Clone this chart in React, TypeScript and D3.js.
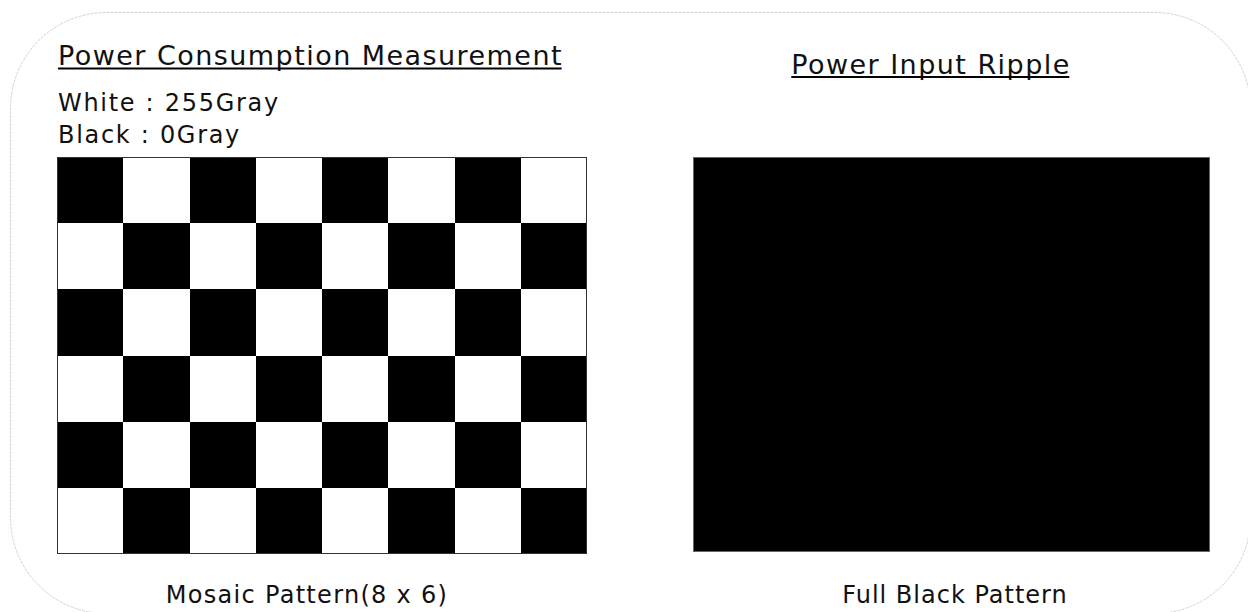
import React, { useEffect, useRef } from 'react';
import * as d3 from 'd3';

// Data
const mosaicColumns = [1, 2, 3, 4, 5, 6, 7, 8];
const mosaicRows = [1, 2, 3, 4, 5, 6];
const whiteGray = 255;
const blackGray = 0;
const fullPatternGray = [blackGray];

const leftTitle = 'Power Consumption Measurement';
const rightTitle = 'Power Input Ripple';
const legendLines = [`White : ${whiteGray}Gray`, `Black : ${blackGray}Gray`];
const leftCaption = `Mosaic Pattern(${mosaicColumns.length} x ${mosaicRows.length})`;
const rightCaption = 'Full Black Pattern';

const App = () => {
    const chartRef = useRef<HTMLDivElement>(null);

    useEffect(() => {
        document.body.style.margin = '0';
        document.body.style.overflow = 'hidden';
        drawPatterns(chartRef.current);
    }, []);

    const drawPatterns = (element: HTMLDivElement | null) => {
        if (!element) return;
        d3.select(element).selectAll('*').remove();

        const width = 1248;
        const height = 612;
        const font = '"DejaVu Sans", Verdana, sans-serif';

        const svg = d3.select(element)
            .append('svg')
            .attr('width', width)
            .attr('height', height)
            .style('display', 'block')
            .style('background', '#fff');

        // outer rounded frame
        svg.append('rect')
            .attr('x', 10.5)
            .attr('y', 12.5)
            .attr('width', 1240)
            .attr('height', 601)
            .attr('rx', 96)
            .attr('ry', 96)
            .attr('fill', 'none')
            .attr('stroke', '#d4d4d4')
            .attr('stroke-width', 1)
            .attr('stroke-dasharray', '3,1');

        // Mosaic pattern
        const mosaic = { left: 57, top: 157, right: 587, bottom: 554 };
        const x = d3.scaleBand<number>().domain(mosaicColumns).range([mosaic.left, mosaic.right]);
        const y = d3.scaleBand<number>().domain(mosaicRows).range([mosaic.top, mosaic.bottom]);

        const cells = mosaicRows.flatMap(r => mosaicColumns.map(c => ({
            row: r,
            col: c,
            gray: (r + c) % 2 === 0 ? blackGray : whiteGray
        })));

        svg.append('g')
            .selectAll('rect')
            .data(cells)
            .enter()
            .append('rect')
            .attr('x', d => x(d.col)!)
            .attr('y', d => y(d.row)!)
            .attr('width', x.bandwidth())
            .attr('height', y.bandwidth())
            .attr('fill', d => d3.rgb(d.gray, d.gray, d.gray).toString())
            .attr('shape-rendering', 'crispEdges');

        svg.append('rect')
            .attr('x', mosaic.left + 0.5)
            .attr('y', mosaic.top + 0.5)
            .attr('width', mosaic.right - mosaic.left - 1)
            .attr('height', mosaic.bottom - mosaic.top - 1)
            .attr('fill', 'none')
            .attr('stroke', '#333')
            .attr('stroke-width', 1);

        // Full black pattern
        const full = { left: 693, top: 157, right: 1210, bottom: 552 };
        svg.append('g')
            .selectAll('rect')
            .data(fullPatternGray)
            .enter()
            .append('rect')
            .attr('x', full.left + 0.5)
            .attr('y', full.top + 0.5)
            .attr('width', full.right - full.left - 1)
            .attr('height', full.bottom - full.top - 1)
            .attr('fill', d => d3.rgb(d, d, d).toString())
            .attr('stroke', '#666')
            .attr('stroke-width', 1);

        // Titles with underline
        const title = (tx: number, ty: number, anchor: string, label: string) => {
            const t = svg.append('text')
                .attr('x', tx)
                .attr('y', ty)
                .attr('text-anchor', anchor)
                .style('font-family', font)
                .style('font-size', '27px')
                .style('letter-spacing', '1.45px')
                .attr('fill', '#111')
                .text(label);
            const bb = (t.node() as SVGTextElement).getBBox();
            svg.append('line')
                .attr('x1', bb.x)
                .attr('x2', bb.x + bb.width - 1.45)
                .attr('y1', ty + 3.5)
                .attr('y2', ty + 3.5)
                .attr('stroke', '#000')
                .attr('stroke-width', 2);
        };
        title(58, 65, 'start', leftTitle);
        title(931, 73.5, 'middle', rightTitle);

        // Gray level legend
        svg.append('g')
            .selectAll('text')
            .data(legendLines)
            .enter()
            .append('text')
            .attr('x', 58)
            .attr('y', (d, i) => 111 + i * 32)
            .style('font-family', font)
            .style('font-size', '24px')
            .style('letter-spacing', '1.7px')
            .attr('fill', '#111')
            .text(d => d);

        // Captions
        svg.append('text')
            .attr('x', 307)
            .attr('y', 603)
            .attr('text-anchor', 'middle')
            .style('font-family', font)
            .style('font-size', '24px')
            .style('letter-spacing', '1.3px')
            .attr('fill', '#111')
            .text(leftCaption);

        svg.append('text')
            .attr('x', 955)
            .attr('y', 603)
            .attr('text-anchor', 'middle')
            .style('font-family', font)
            .style('font-size', '24px')
            .style('letter-spacing', '1px')
            .attr('fill', '#111')
            .text(rightCaption);
    };

    return <div ref={chartRef} />;
};

export default App;
